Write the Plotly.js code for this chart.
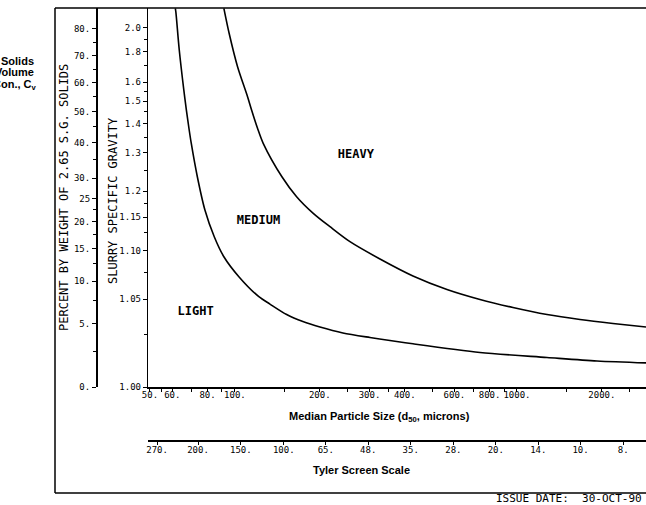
<!DOCTYPE html>
<html>
<head>
<meta charset="utf-8">
<script src="https://cdn.plot.ly/plotly-3.0.1.min.js"></script>
<style>html,body{margin:0;padding:0;background:#fff;}#chart{width:646px;height:505px;}</style>
</head>
<body>
<div id="chart"></div>
<script>
// ---- data ----
// Boundary LIGHT / MEDIUM
const lowerD50 = [61.5, 61.8, 63.5, 65.9, 67.3, 68.7, 70.0, 73.6, 78.3, 84.5, 91.4, 103.3, 121.6, 133.1, 152.6, 174.2, 200.2, 241.5, 301.1, 354.5, 427.8, 739.4, 1278, 1922, 2867];
const lowerSG  = [2.20, 2.153, 1.814, 1.557, 1.458, 1.384, 1.3305, 1.2335, 1.1626, 1.1191, 1.0927, 1.0707, 1.0522, 1.0462, 1.0383, 1.0334, 1.0298, 1.0261, 1.0234, 1.0217, 1.0198, 1.0152, 1.0127, 1.0110, 1.0101];
// Boundary MEDIUM / HEAVY
const upperD50 = [91.4, 95.4, 102.2, 110.9, 114.6, 120.2, 126.0, 146.8, 165.5, 189.6, 217.3, 255.8, 326.8, 427.8, 564.7, 739.4, 967.9, 1278, 1673, 2190, 2867];
const upperSG  = [2.20, 1.952, 1.695, 1.5216, 1.4585, 1.384, 1.3295, 1.2335, 1.1885, 1.1566, 1.1342, 1.1121, 1.0900, 1.0714, 1.0585, 1.0499, 1.0435, 1.0383, 1.0348, 1.0321, 1.0298];
// Region labels
const regionLabels = ['LIGHT', 'MEDIUM', 'HEAVY'];
const regionD50 = [72.6, 121.3, 268.6];
const regionSG  = [1.0404, 1.1434, 1.2925];
// Axis ticks
const d50Ticks  = [50, 60, 80, 100, 200, 300, 400, 600, 800, 1000, 2000];
const d50Labels = ['50.', '60.', '80.', '100.', '200.', '300.', '400.', '600.', '800.', '1000.', '2000.'];
const d50Minor  = [55, 70, 90, 150, 250, 350, 500, 700, 900, 1500, 2500];
const tylerMesh   = ['270.', '200.', '150.', '100.', '65.', '48.', '35.', '28.', '20.', '14.', '10.', '8.'];
const tylerMicron = [53, 74, 105, 149, 210, 297, 420, 595, 841, 1190, 1680, 2380];
const sgTicks  = [1.00, 1.05, 1.10, 1.15, 1.2, 1.3, 1.4, 1.5, 1.6, 1.8, 2.0];
const sgLabels = ['1.00', '1.05', '1.10', '1.15', '1.2', '1.3', '1.4', '1.5', '1.6', '1.8', '2.0'];
const sgMinor  = [1.025, 1.075, 1.125, 1.175, 1.25, 1.35, 1.45, 1.55, 1.7, 1.9];
const cwTicks  = [0, 5, 10, 15, 20, 25, 30, 40, 50, 60, 70, 80];
const cwLabels = ['0.', '5.', '10.', '15.', '20.', '25', '30.', '40.', '50.', '60.', '70.', '80.'];
const cwMinor  = [2.5, 7.5, 12.5, 17.5, 22.5, 35, 45, 55, 65, 75];

// ---- scale helpers ----
const OFFSET = 0.958;          // SG axis is logarithmic in (SG - OFFSET)
const SOLIDS_SG = 2.65;
const sgAx = v => v - OFFSET;
const cwToSG = cw => 1 / (1 - (cw / 100) * (1 - 1 / SOLIDS_SG));
const yRange = [Math.log10(sgAx(1.0)), Math.log10(sgAx(2.204))];
const xRange = [Math.log10(49.2), Math.log10(2867)];

const W = 646, H = 505, ML = 55, MR = 0, MT = 8, MB = 12;
const PW = W - ML - MR, PH = H - MT - MB;
const pxX = p => (p - ML) / PW;
const pxY = p => (H - MB - p) / PH;

const mono = 'DejaVu Sans Mono, monospace';
const sans = 'Liberation Sans, Arial, sans-serif';
const tickFont = {family: mono, size: 9, color: '#000'};

const curveLine = {color: '#000', width: 1.6, shape: 'spline', smoothing: 0.8};
const traces = [
  {x: lowerD50, y: lowerSG.map(sgAx), mode: 'lines', line: curveLine, hoverinfo: 'skip'},
  {x: upperD50, y: upperSG.map(sgAx), mode: 'lines', line: curveLine, hoverinfo: 'skip'},
  {x: regionD50, y: regionSG.map(sgAx), mode: 'text', text: regionLabels, textposition: 'middle center',
   textfont: {family: mono, size: 12, color: '#000', weight: 'bold'}, hoverinfo: 'skip'},
  {x: [], y: [], xaxis: 'x2', yaxis: 'y2', mode: 'lines'}
];

const frame = {color: '#000', width: 1.5};
const ann = (x, y, text, font, extra) => Object.assign({
  xref: 'paper', yref: 'paper', x: pxX(x), y: pxY(y), text: text, showarrow: false,
  xanchor: 'center', yanchor: 'middle', font: font
}, extra || {});
const boldSans = {family: sans, size: 11, color: '#000', weight: 'bold'};
const monoTitle = {family: mono, size: 12, color: '#000'};

const layout = {
  width: W, height: H,
  margin: {l: ML, r: MR, t: MT, b: MB, pad: 0},
  paper_bgcolor: '#fff', plot_bgcolor: '#fff',
  showlegend: false,
  xaxis: {
    type: 'log', domain: [pxX(148), 1], range: xRange, anchor: 'y',
    showline: true, linecolor: '#000', linewidth: 1.5, showgrid: false, zeroline: false,
    ticks: 'outside', ticklen: 3, tickcolor: '#000', tickmode: 'array', ticklabelstandoff: -4,
    tickvals: d50Ticks, ticktext: d50Labels, tickfont: tickFont,
    minor: {tickmode: 'array', tickvals: d50Minor, ticks: 'outside', ticklen: 3, tickcolor: '#000'}
  },
  xaxis2: {
    type: 'log', overlaying: 'x', anchor: 'free', position: pxY(441), domain: [pxX(148), 1], range: xRange,
    side: 'bottom', showline: true, linecolor: '#000', linewidth: 2, showgrid: false, zeroline: false,
    ticks: 'outside', ticklen: 3, tickcolor: '#000', tickmode: 'array', ticklabelstandoff: -3,
    tickvals: tylerMicron, ticktext: tylerMesh, tickfont: tickFont
  },
  yaxis: {
    type: 'log', domain: [pxY(387), 1], range: yRange, anchor: 'x',
    showline: true, linecolor: '#000', linewidth: 1.2, showgrid: false, zeroline: false,
    ticks: 'outside', ticklen: 4, tickcolor: '#000', tickmode: 'array',
    tickvals: sgTicks.map(sgAx), ticktext: sgLabels, tickfont: tickFont,
    minor: {tickmode: 'array', tickvals: sgMinor.map(sgAx), ticks: 'outside', ticklen: 3, tickcolor: '#000'}
  },
  yaxis2: {
    type: 'log', overlaying: 'y', anchor: 'free', position: pxX(97), side: 'left', range: yRange,
    showline: true, linecolor: '#000', linewidth: 2, showgrid: false, zeroline: false,
    ticks: 'outside', ticklen: 4, tickcolor: '#000', tickmode: 'array',
    tickvals: cwTicks.map(c => sgAx(cwToSG(c))), ticktext: cwLabels, tickfont: tickFont,
    minor: {tickmode: 'array', tickvals: cwMinor.map(c => sgAx(cwToSG(c))), ticks: 'outside', ticklen: 3, tickcolor: '#000'}
  },
  shapes: [
    {type: 'line', xref: 'paper', yref: 'paper', x0: 0, x1: 0, y0: 0, y1: 1, line: frame},
    {type: 'line', xref: 'paper', yref: 'paper', x0: 0, x1: 1, y0: 1, y1: 1, line: frame},
    {type: 'line', xref: 'paper', yref: 'paper', x0: 0, x1: 1, y0: 0, y1: 0, line: frame}
  ],
  annotations: [
    ann(64, 198, 'PERCENT BY WEIGHT OF 2.65 S.G. SOLIDS', monoTitle, {textangle: -90}),
    ann(113, 201, 'SLURRY SPECIFIC GRAVITY', monoTitle, {textangle: -90}),
    ann(36, 61, 'Solids', boldSans, {xanchor: 'right'}),
    ann(36, 72, 'Volume', boldSans, {xanchor: 'right'}),
    ann(39, 85, 'Con., C<sub>v</sub>', boldSans, {xanchor: 'right'}),
    ann(379, 417, 'Median Particle Size (d<sub>50</sub>, microns)', boldSans),
    ann(361, 470, 'Tyler Screen Scale', boldSans),
    ann(644, 498, 'ISSUE DATE:\u00a0\u00a030-OCT-90', {family: mono, size: 11, color: '#000'}, {xanchor: 'right'})
  ]
};

Plotly.newPlot('chart', traces, layout, {displayModeBar: false, staticPlot: true});
</script>
</body>
</html>
